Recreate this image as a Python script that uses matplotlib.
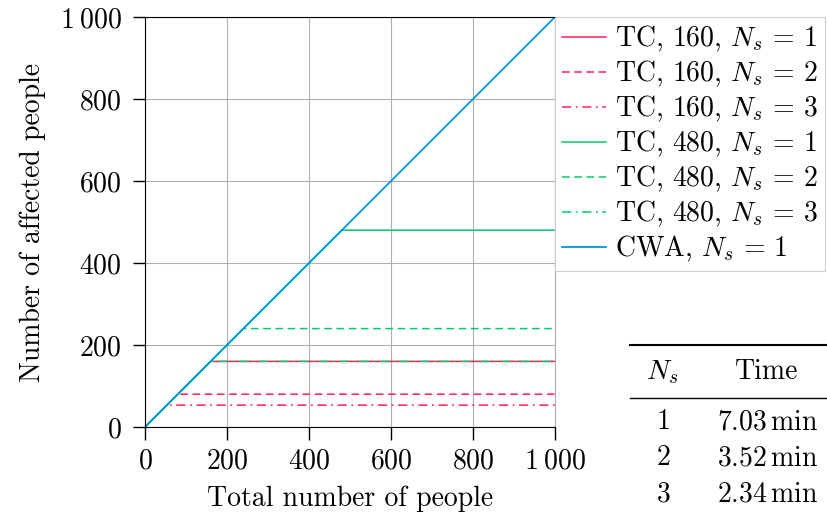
import matplotlib
matplotlib.use("Agg")
import matplotlib.pyplot as plt
from matplotlib.lines import Line2D

plt.rcParams["font.family"] = "serif"
plt.rcParams["font.serif"] = ["cmr10"]
plt.rcParams["mathtext.fontset"] = "cm"
plt.rcParams["axes.formatter.use_mathtext"] = True

# plateau level of each truncation-capacity run (people affected saturate here)
tc160_caps = [160, 80, 53.33]
tc480_caps = [480, 240, 160]
ns_values = [1, 2, 3]
x_max = 1000

# wall-clock times per number of servers
table_ns = [1, 2, 3]
table_times = [7.03, 3.52, 2.34]

RED = "#ff1f5b"
GREEN = "#00cd6c"
BLUE = "#009ade"
styles = ["-", (0, (5, 3)), (0, (6, 3, 1.2, 3))]
FS = 20

fig = plt.figure(figsize=(8.28, 5.19), dpi=100)
ax = fig.add_axes([145 / 828, 92 / 519, 410 / 828, 410 / 519])

for cap, ns, ls in zip(tc160_caps, ns_values, styles):
    ax.plot([0, cap, x_max], [0, cap, cap], color=RED, ls=ls, lw=1.1,
            label=rf"TC, 160, $N_s\,=\,{ns}$")
for cap, ns, ls in zip(tc480_caps, ns_values, styles):
    ax.plot([0, cap, x_max], [0, cap, cap], color=GREEN, ls=ls, lw=1.1,
            label=rf"TC, 480, $N_s\,=\,{ns}$")
ax.plot([0, x_max], [0, x_max], color=BLUE, lw=1.3, label=r"CWA, $N_s\,=\,1$")

ax.set_xlim(0, 1000)
ax.set_ylim(0, 1000)
ticks = [0, 200, 400, 600, 800, 1000]
labels = [r"$1\:000$" if t == 1000 else rf"${t}$" for t in ticks]
ax.set_xticks(ticks)
ax.set_xticklabels(labels)
ax.set_yticks(ticks)
ax.set_yticklabels(labels)
ax.tick_params(labelsize=FS, length=9, width=1, direction="out")
ax.tick_params(axis="y", pad=8)
ax.tick_params(axis="x", pad=6)
ax.grid(True, color="#b0b0b0", lw=0.8)
ax.set_axisbelow(True)
ax.spines["right"].set_color("#b0b0b0")
ax.set_xlabel("Total number of people", fontsize=FS, labelpad=8)
ax.set_ylabel("Number of affected people", fontsize=FS, labelpad=10)

leg = ax.legend(loc="upper left", bbox_to_anchor=(1.0, 1.0), fontsize=FS,
                frameon=True, fancybox=False, edgecolor="#cccccc",
                framealpha=1, handlelength=1.6, handletextpad=0.3,
                borderpad=0.25, labelspacing=0.17, borderaxespad=0)
leg.get_frame().set_linewidth(0.8)

# summary table of run times
x0, x1 = 630 / 828, 828 / 828
fig.add_artist(Line2D([x0, x1], [1 - 345 / 519] * 2, color="black", lw=1.5))
fig.add_artist(Line2D([x0, x1], [1 - 398 / 519] * 2, color="black", lw=1.0))
fig.text(662 / 828, 1 - 372 / 519, r"$N_s$", fontsize=FS, ha="center", va="center")
fig.text(767 / 828, 1 - 372 / 519, "Time", fontsize=FS, ha="center", va="center")
for i, (ns, t) in enumerate(zip(table_ns, table_times)):
    y = 1 - (422 + 36 * i) / 519
    fig.text(663 / 828, y, rf"${ns}$", fontsize=FS, ha="center", va="center")
    fig.text(818 / 828, y, rf"${t:.2f}\,\mathrm{{min}}$", fontsize=FS,
             ha="right", va="center")

fig.savefig("out.png", dpi=100)
